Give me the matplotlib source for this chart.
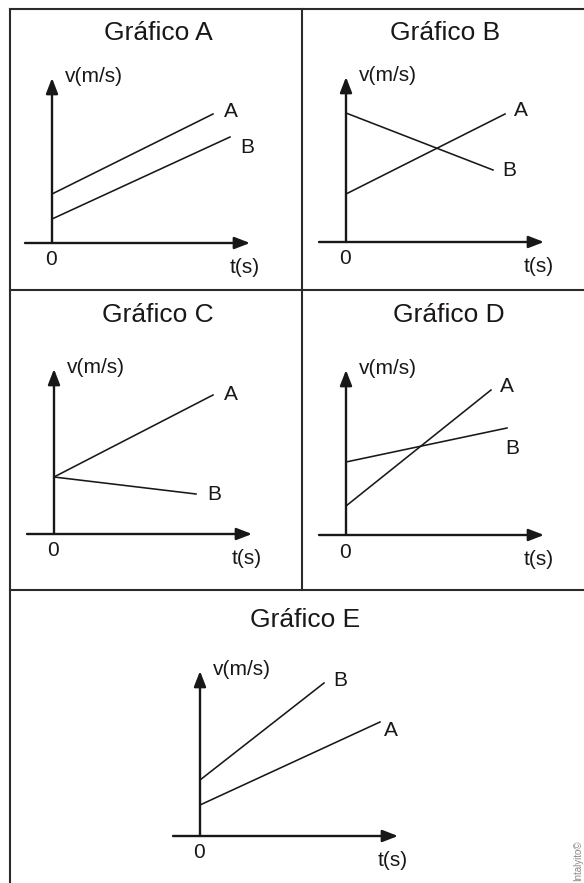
import matplotlib
matplotlib.use('Agg')
import matplotlib.pyplot as plt

plt.rcParams['font.family'] = ['Liberation Sans', 'DejaVu Sans']

# dados: uma entrada por gráfico (A..E), em unidades arbitrárias de t e v
titulos = ['Gráfico A', 'Gráfico B', 'Gráfico C', 'Gráfico D', 'Gráfico E']
# reta A
tA_fim = [16.1, 15.9, 15.9, 14.5, 18.0]
vA_ini = [4.9, 4.8, 5.7, 2.9, 3.1]
vA_fim = [12.9, 12.8, 13.9, 14.5, 11.4]
# reta B
tB_fim = [17.8, 14.7, 14.2, 16.1, 12.4]
vB_ini = [2.4, 12.9, 5.7, 7.3, 5.6]
vB_fim = [10.6, 7.2, 4.0, 10.7, 15.3]
rotulo_v = 'v(m/s)'
rotulo_t = 't(s)'
rotulo_zero = '0'

# layout em pixels
W, H = 584, 883
ESC = 10.0  # pixels por unidade
origens = [(52, 243), (346, 242), (54, 534), (346, 535), (200, 836)]
pos_titulo = [(158, 40), (445, 40), (158, 322), (449, 322), (305, 627)]
# deslocamento (px) dos rótulos A e B a partir do fim de cada reta
desl_A = [(18, -2), (16, -4), (18, 0), (16, -3), (11, 8)]
desl_B = [(17, 11), (16, 1), (18, 1), (5, 20), (16, -3)]

cor = '#1a1718'
lw_eixo = 1.7
lw_reta = 1.15

fig = plt.figure(figsize=(W / 100, H / 100), dpi=100)
moldura = fig.add_axes([0, 0, 1, 1])
moldura.set_xlim(0, W)
moldura.set_ylim(H, 0)
moldura.axis('off')

# moldura da tabela
cb = '#2b2b2b'
moldura.plot([10, W], [9, 9], color=cb, lw=1.5)
moldura.plot([10, 10], [9, H], color=cb, lw=1.5)
moldura.plot([10, W], [290, 290], color=cb, lw=1.5)
moldura.plot([10, W], [590, 590], color=cb, lw=1.5)
moldura.plot([302, 302], [9, 590], color=cb, lw=1.5)

for i in range(5):
    ox, oy = origens[i]
    ax = fig.add_axes([0, 0, 1, 1])
    ax.set_xlim(-ox / ESC, (W - ox) / ESC)
    ax.set_ylim(-(H - oy) / ESC, oy / ESC)
    ax.axis('off')
    ax.patch.set_alpha(0)

    # eixos com seta
    seta = dict(arrowstyle='-|>,head_length=0.62,head_width=0.24', lw=lw_eixo,
                color=cor, mutation_scale=15, shrinkA=0, shrinkB=0)
    ax.annotate('', xy=(19.8, 0), xytext=(-2.7, 0), arrowprops=seta)
    ax.annotate('', xy=(0, 16.5), xytext=(0, 0), arrowprops=seta)

    # retas
    ax.plot([0, tA_fim[i]], [vA_ini[i], vA_fim[i]], color=cor, lw=lw_reta)
    ax.plot([0, tB_fim[i]], [vB_ini[i], vB_fim[i]], color=cor, lw=lw_reta)
    ax.annotate('A', xy=(tA_fim[i], vA_fim[i]), xytext=(desl_A[i][0], -desl_A[i][1]),
                textcoords='offset pixels', ha='center', va='center', fontsize=15, color=cor)
    ax.annotate('B', xy=(tB_fim[i], vB_fim[i]), xytext=(desl_B[i][0], -desl_B[i][1]),
                textcoords='offset pixels', ha='center', va='center', fontsize=15, color=cor)

    ax.text(1.25, 16.1, rotulo_v, ha='left', va='baseline', fontsize=15, color=cor)
    ax.text(-0.05, -2.25, rotulo_zero, ha='center', va='baseline', fontsize=15, color=cor)
    ax.text(19.3, -3.0, rotulo_t, ha='center', va='baseline', fontsize=15, color=cor)

    moldura.text(pos_titulo[i][0], pos_titulo[i][1], titulos[i], ha='center',
                 va='baseline', fontsize=19, color=cor)

moldura.text(578, 881, 'Intalyito©', rotation=90, ha='center', va='bottom',
             fontsize=7, color='#8a8a8a',
             family=['Liberation Sans Narrow', 'Liberation Sans', 'DejaVu Sans'])

fig.savefig('out.png', dpi=100)
